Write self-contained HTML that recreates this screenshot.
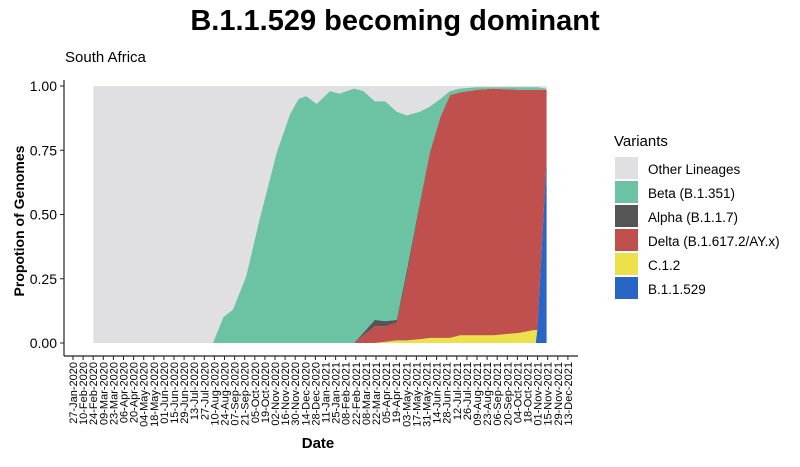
<!DOCTYPE html>
<html><head><meta charset="utf-8"><style>
body{margin:0;background:#fff;}
svg text{font-family:"Liberation Sans",sans-serif;}
</style></head><body>
<svg width="800" height="462" viewBox="0 0 800 462">
<text x="395" y="30" text-anchor="middle" font-size="29" font-weight="bold">B.1.1.529 becoming dominant</text>
<text x="65" y="62" font-size="15">South Africa</text>
<g id="plot"></g>
<g id="axes"></g>
<text transform="translate(24,221) rotate(-90)" text-anchor="middle" font-size="14" font-weight="bold">Propotion of Genomes</text>
<text x="318" y="448" text-anchor="middle" font-size="15" font-weight="bold">Date</text>
<g id="legend"></g>
</svg>
<script>
const tickLabels=["27-Jan-2020","10-Feb-2020","24-Feb-2020","09-Mar-2020","23-Mar-2020","06-Apr-2020","20-Apr-2020","04-May-2020","18-May-2020","01-Jun-2020","15-Jun-2020","29-Jun-2020","13-Jul-2020","27-Jul-2020","10-Aug-2020","24-Aug-2020","07-Sep-2020","21-Sep-2020","05-Oct-2020","19-Oct-2020","02-Nov-2020","16-Nov-2020","30-Nov-2020","14-Dec-2020","28-Dec-2020","11-Jan-2021","25-Jan-2021","08-Feb-2021","22-Feb-2021","08-Mar-2021","22-Mar-2021","05-Apr-2021","19-Apr-2021","03-May-2021","17-May-2021","31-May-2021","14-Jun-2021","28-Jun-2021","12-Jul-2021","26-Jul-2021","09-Aug-2021","23-Aug-2021","06-Sep-2021","20-Sep-2021","04-Oct-2021","18-Oct-2021","01-Nov-2021","15-Nov-2021","29-Nov-2021","13-Dec-2021"];
const yTicks=[0,0.25,0.5,0.75,1];
const yTickLabels=["0.00","0.25","0.50","0.75","1.00"];
// time positions in fortnight units (0 = 27-Jan-2020)
const t=[2.01,13.86,14.89,15.84,17.16,18.47,20.17,21.49,22.34,23.09,24.13,25.45,26.39,27.81,28.75,29.88,30.92,32.05,33.04,34.36,35.35,36.38,37.33,38.32,39.97,41.62,44.25,45.57,45.81,45.97,46.89];
const b11529=[0,0,0,0,0,0,0,0,0,0,0,0,0,0,0,0,0,0,0,0,0,0,0,0,0,0,0,0,0,0.05,0.72];
const c12=[0,0,0,0,0,0,0,0,0,0,0,0,0,0,0,0,0.005,0.01,0.01,0.015,0.02,0.02,0.02,0.03,0.03,0.03,0.04,0.05,0.05,0,0];
const delta=[0,0,0,0,0,0,0,0,0,0,0,0,0,0,0.03,0.065,0.06,0.07,0.25,0.525,0.72,0.86,0.945,0.945,0.955,0.96,0.945,0.935,0.935,0.935,0.265];
const alpha=[0,0,0,0,0,0,0,0,0,0,0,0,0,0,0.01,0.025,0.02,0.01,0.02,0.01,0.005,0,0,0,0,0,0,0,0,0,0];
const beta=[0,0,0.10,0.13,0.26,0.48,0.74,0.89,0.95,0.96,0.93,0.98,0.97,0.99,0.94,0.85,0.855,0.81,0.605,0.35,0.175,0.07,0.015,0.015,0.01,0.005,0.01,0.01,0.01,0.01,0.005];
const series=[
 {name:"B.1.1.529",v:b11529,c:"#2766c4",k:"b11529"},
 {name:"C.1.2",v:c12,c:"#ece14a",k:"c12"},
 {name:"Delta (B.1.617.2/AY.x)",v:delta,c:"#c0504d",k:"delta"},
 {name:"Alpha (B.1.1.7)",v:alpha,c:"#555555",k:"alpha"},
 {name:"Beta (B.1.351)",v:beta,c:"#6cc3a3",k:"beta"}];
const NS="http://www.w3.org/2000/svg";
const x0=73,dx=10.1,yTop=86,yBot=343;
const X=i=>x0+i*dx;
const Y=v=>yBot-v*(yBot-yTop);
function mk(tag,attrs,parent){const e=document.createElementNS(NS,tag);for(const k in attrs)e.setAttribute(k,attrs[k]);parent.appendChild(e);return e;}
const plot=document.getElementById('plot');
let bg=mk('rect',{x:X(t[0]),y:Y(1),width:X(t[t.length-1])-X(t[0]),height:Y(0)-Y(1),fill:"#e0e0e2"},plot);


const cum=t.map(()=>0);
series.forEach(s=>{
 const lo=cum.slice();
 s.v.forEach((v,i)=>cum[i]+=v);
 let d="M"+t.map((ti,i)=>X(ti)+","+Y(cum[i])).join(" L");
 for(let i=t.length-1;i>=0;i--)d+=" L"+X(t[i])+","+Y(lo[i]);
 const p=mk('path',{d:d+"Z",fill:s.c},plot);
 
 
});
const ax=document.getElementById('axes');
let l=mk('line',{x1:64,y1:80,x2:64,y2:356,stroke:"#222","stroke-width":1.2},ax);


l=mk('line',{x1:64,y1:356,x2:578,y2:356,stroke:"#222","stroke-width":1.2},ax);


yTicks.forEach((v,i)=>{
 mk('line',{x1:60,x2:64,y1:Y(v),y2:Y(v),stroke:"#222"},ax);
 const tx=mk('text',{x:57,y:Y(v)+5,"text-anchor":"end","font-size":14},ax);
 tx.textContent=yTickLabels[i];
 
 
});
tickLabels.forEach((lab,i)=>{
 mk('line',{x1:X(i),x2:X(i),y1:356,y2:360,stroke:"#222"},ax);
 const tx=mk('text',{transform:`translate(${X(i)+4},362) rotate(-90)`,"text-anchor":"end","font-size":11},ax);
 tx.textContent=lab;
 
 
});
const lg=document.getElementById('legend');
let tt=mk('text',{x:614,y:146,"font-size":15},lg);tt.textContent="Variants";


const items=[["Other Lineages","#e0e0e2"],["Beta (B.1.351)","#6cc3a3"],["Alpha (B.1.1.7)","#555555"],["Delta (B.1.617.2/AY.x)","#c0504d"],["C.1.2","#ece14a"],["B.1.1.529","#2766c4"]];
items.forEach((it,i)=>{
 const g=mk('g',{},lg);
 
 
 mk('rect',{x:615,y:157+i*24,width:23,height:22,fill:it[1]},g);
 const tx=mk('text',{x:648,y:174+i*24,"font-size":13.5},g);tx.textContent=it[0];
});
</script>
</body></html>
